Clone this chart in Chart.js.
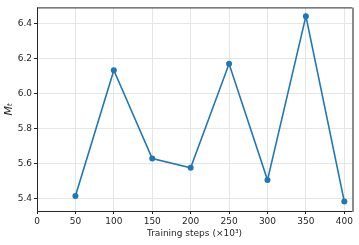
<!DOCTYPE html>
<html>
<head>
<meta charset="utf-8">
<script src="https://cdn.jsdelivr.net/npm/chart.js@4/dist/chart.umd.min.js"></script>
<style>
html,body{margin:0;padding:0;background:#fff;}
#wrap{width:359px;height:245px;position:relative;}
</style>
</head>
<body>
<div id="wrap"><canvas id="c" width="359" height="245"></canvas></div>
<script>
const steps = [50, 100, 150, 200, 250, 300, 350, 400];
const mt = [5.413, 6.133, 5.627, 5.574, 6.17, 5.504, 6.443, 5.381];
const xTicks = [0, 50, 100, 150, 200, 250, 300, 350, 400];
const yTicks = [5.4, 5.6, 5.8, 6.0, 6.2, 6.4];
const xLabel = 'Training steps (×10³)';
const yLabel = 'Mₜ';

const spines = {
  id: 'spines',
  afterDraw(chart) {
    const a = chart.chartArea, ctx = chart.ctx;
    ctx.save();
    ctx.strokeStyle = '#262626';
    ctx.lineWidth = 1;
    ctx.beginPath();
    ctx.moveTo(a.left + 0.5, a.top + 0.5);
    ctx.lineTo(a.right, a.top + 0.5);
    ctx.moveTo(a.left + 0.5, a.top);
    ctx.lineTo(a.left + 0.5, a.bottom);
    ctx.moveTo(a.left, a.bottom + 0.5);
    ctx.lineTo(a.right, a.bottom + 0.5);
    ctx.stroke();
    ctx.strokeStyle = '#8c8c8c';
    ctx.lineWidth = 2;
    ctx.beginPath();
    ctx.moveTo(a.right + 1, a.top);
    ctx.lineTo(a.right + 1, a.bottom + 1);
    ctx.stroke();
    ctx.restore();
  }
};

Chart.defaults.font.family = 'DejaVu Sans';
Chart.defaults.font.size = 9;
Chart.defaults.color = '#262626';

new Chart(document.getElementById('c'), {
  type: 'line',
  data: {
    datasets: [{
      data: steps.map((s, i) => ({x: s, y: mt[i]})),
      borderColor: '#1f77b4',
      backgroundColor: '#1f77b4',
      borderWidth: 1.6,
      pointRadius: 3,
      pointHoverRadius: 3,
      pointBorderWidth: 0,
      tension: 0,
      clip: false
    }]
  },
  options: {
    responsive: false,
    animation: false,
    events: [],
    layout: {padding: {left: 0, right: 7, top: 5, bottom: 0}},
    plugins: {legend: {display: false}, tooltip: {enabled: false}},
    scales: {
      x: {
        type: 'linear',
        min: 0, max: 410,
        afterBuildTicks(s) { s.ticks = xTicks.map(v => ({value: v})); },
        afterFit(s) { s.height = 34; },
        border: {display: false},
        grid: {color: '#e6e6e6', lineWidth: 1, tickColor: '#262626', tickLength: 3, drawTicks: true},
        ticks: {padding: 2, maxRotation: 0, autoSkip: false, font: {size: 9}},
        title: {display: true, text: xLabel, font: {size: 9}, padding: {top: 0, bottom: 6}}
      },
      y: {
        min: 5.327, max: 6.493,
        afterBuildTicks(s) { s.ticks = yTicks.map(v => ({value: v})); },
        afterFit(s) { s.width = 37; },
        border: {display: false},
        grid: {color: '#e6e6e6', lineWidth: 1, tickColor: '#262626', tickLength: 3, drawTicks: true},
        ticks: {padding: 2, autoSkip: false, font: {size: 9}, callback: v => v.toFixed(1)},
        title: {display: true, text: yLabel, font: {size: 11, style: 'italic'}, padding: {top: 3, bottom: 0}}
      }
    }
  },
  plugins: [spines]
});
</script>
</body>
</html>
